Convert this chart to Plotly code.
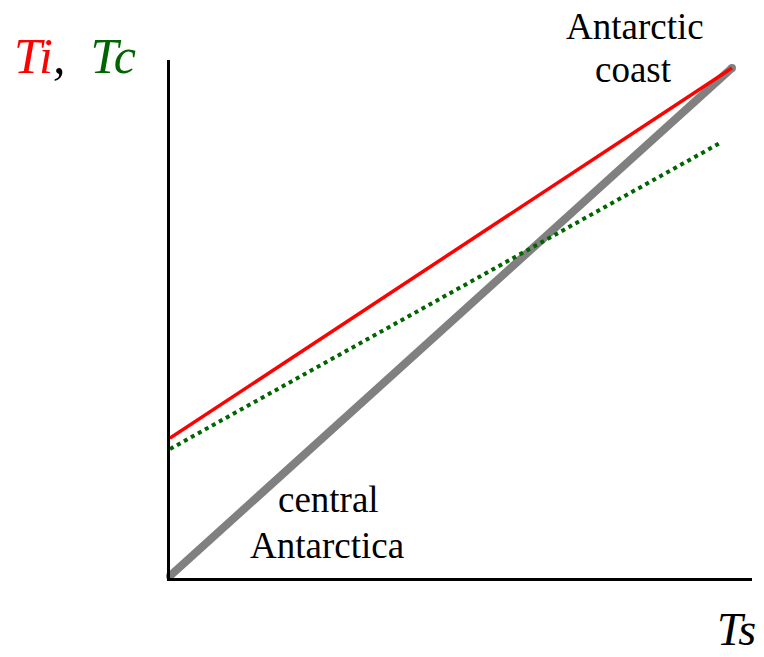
import plotly.graph_objects as go

# Schematic data (normalized axes: 0..1)
ts_gray = [0.0, 0.9656]
t_gray = [0.004, 0.9846]
ts_red = [0.0, 0.9656]
ti_red = [0.270, 0.9846]
ts_green = [0.0, 0.945]
tc_green = [0.249, 0.8398]

SERIF = "Liberation Serif, Times New Roman, serif"

fig = go.Figure()
fig.add_trace(go.Scatter(x=ts_gray, y=t_gray, mode="lines+markers",
                         line=dict(color="#808080", width=8),
                         marker=dict(color="#808080", size=8),
                         hoverinfo="skip", showlegend=False, cliponaxis=False))
fig.add_trace(go.Scatter(x=ts_red, y=ti_red, mode="lines",
                         line=dict(color="#ff0000", width=3.5),
                         hoverinfo="skip", showlegend=False, cliponaxis=False))
fig.add_trace(go.Scatter(x=ts_green, y=tc_green, mode="lines",
                         line=dict(color="#006400", width=4, dash="dot"),
                         hoverinfo="skip", showlegend=False, cliponaxis=False))

def label(text, x, y, size, **kw):
    return dict(text=text, x=x, y=y, xref="paper", yref="paper", showarrow=False,
                font=dict(family=SERIF, size=size, color="black"),
                xanchor="center", yanchor="middle", borderpad=0, **kw)

annotations = [
    label("Antarctic", 0.799, 1.0656, 37),
    label("coast", 0.797, 0.9807, 37),
    label("central", 0.2715, 0.1506, 37),
    label("Antarctica", 0.2706, 0.0637, 37),
    label("<i><span style='color:#ff0000'>Ti</span>,&nbsp; <span style='color:#006400'>Tc</span></i>",
          -0.163, 1.0068, 50),
    label("<i>Ts</i>", 0.974, -0.1, 46),
]

fig.update_layout(
    width=764, height=657,
    margin=dict(l=170, r=12, t=60, b=79),
    paper_bgcolor="white", plot_bgcolor="white",
    xaxis=dict(range=[0, 1], showgrid=False, zeroline=False, showticklabels=False,
               ticks="", showline=True, linecolor="black", linewidth=3),
    yaxis=dict(range=[0, 1], showgrid=False, zeroline=False, showticklabels=False,
               ticks="", showline=True, linecolor="black", linewidth=3),
    annotations=annotations,
)

fig.write_html("out.html", config={"displayModeBar": False},
               post_script="document.body.style.margin='0';document.body.style.overflow='hidden';")
